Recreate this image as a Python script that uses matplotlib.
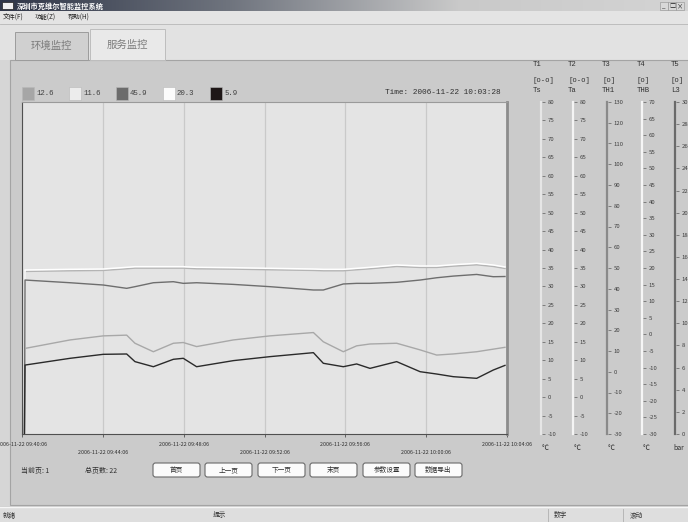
import numpy as np
import matplotlib
matplotlib.use('Agg')
import matplotlib.pyplot as plt
import matplotlib.patheffects as pe
from matplotlib.patches import Rectangle, FancyBboxPatch
from matplotlib.colors import LinearSegmentedColormap

plt.rcParams['font.family'] = ['Noto Sans CJK SC', 'DejaVu Sans']
plt.rcParams['axes.unicode_minus'] = False

W, H = 688, 522

# ---- data ----
# minutes after 2006-11-22 09:40:06
minutes = [0.12, 0.15, 2.38, 4.02, 5.18, 5.59, 6.50, 7.49, 7.98, 8.64, 10.46, 12.27,
           14.42, 14.91, 15.90, 16.56, 17.22, 18.54, 19.70, 20.52, 21.34, 22.50, 23.32, 23.90]
t1_gray = [-10, 13.2, 15.5, 16.6, 16.8, 14.6, 12.3, 14.6, 14.8, 13.7, 15.5, 16.6,
           17.5, 15.0, 12.3, 13.9, 14.4, 14.6, 12.8, 11.4, 11.7, 12.3, 13.0, 13.5]
th1_dark = [-30, 44.2, 42.9, 41.8, 40.2, 41.0, 42.9, 43.4, 42.6, 42.9, 42.1, 41.0,
            39.4, 39.4, 42.3, 42.6, 42.6, 43.1, 44.2, 45.3, 46.1, 46.9, 45.8, 45.9]
thb_white = [-30, 19.4, 19.6, 19.7, 20.2, 20.4, 20.4, 20.4, 20.4, 20.2, 20.1, 19.9,
             19.7, 19.6, 19.6, 19.9, 20.2, 20.9, 20.6, 20.6, 21.0, 21.4, 20.9, 20.3]
l3_black = [0, 6.23, 6.84, 7.20, 7.23, 6.54, 6.08, 6.75, 6.84, 6.08, 6.63, 6.99,
            7.35, 6.39, 6.08, 6.33, 5.93, 6.54, 5.63, 5.42, 5.18, 5.03, 5.78, 6.2]

legend_vals = ['12.6', '11.6', '45.9', '20.3', '5.9']
legend_cols = ['#a6a6a6', '#ececec', '#6c6c6c', '#fbfbfb', '#1e1616']

tick_minutes = [0, 4, 8, 12, 16, 20, 24]
tick_labels = ['2006-11-22 09:40:06', '2006-11-22 09:44:06', '2006-11-22 09:48:06',
               '2006-11-22 09:52:06', '2006-11-22 09:56:06', '2006-11-22 10:00:06',
               '2006-11-22 10:04:06']

scale_head = [('T1', '[o-o]', 'Ts'), ('T2', '[o-o]', 'Ta'), ('T3', '[o]', 'TH1'),
              ('T4', '[o]', 'THB'), ('T5', '[o]', 'L3')]
scale_lim = [(-10, 80, 5), (-10, 80, 5), (-30, 130, 10), (-30, 70, 5), (0, 30, 2)]
scale_unit = ['℃', '℃', '℃', '℃', 'bar']

buttons = ['首页', '上一页', '下一页', '末页', '参数设置', '数据导出']


def box(x0, y0, x1, y1):
    return [x0 / W, 1 - y1 / H, (x1 - x0) / W, (y1 - y0) / H]


fig = plt.figure(figsize=(W / 100, H / 100), dpi=100, facecolor='#cbcbcb')

# ---- window chrome ----
ui = fig.add_axes([0, 0, 1, 1])
ui.set_zorder(0)
tb = LinearSegmentedColormap.from_list('tb', ['#2f3648', '#6f747e', '#c9c9c9', '#d4d4d4'])
ui.imshow(np.linspace(0, 1, 256)[None, :], cmap=tb, aspect='auto', extent=[0, W, 11, 0])
ui.add_patch(Rectangle((0, 11), W, 13, fc='#e4e4e4', ec='none'))
ui.add_patch(Rectangle((0, 24), W, 36, fc='#e2e2e2', ec='none'))
ui.plot([0, W], [24, 24], color='#b8b8b8', lw=0.6)
ui.add_patch(Rectangle((0, 60), W, 446, fc='#d6d6d6', ec='none'))
ui.add_patch(Rectangle((10, 60), W, 445, fc='#cbcbcb', ec='#a4a4a4', lw=0.8))
ui.add_patch(Rectangle((0, 507), W, 15, fc='#dedede', ec='none'))
ui.plot([0, W], [507, 507], color='#f6f6f6', lw=1)
for sx in [548, 623]:
    ui.plot([sx, sx], [509, 522], color='#b0b0b0', lw=0.6)

ui.add_patch(Rectangle((2, 2), 11, 7, fc='#f0f0f0', ec='#202020', lw=0.5))
ui.text(17, 6, '深圳市克维尔智能监控系统', color='white', fontsize=5.2,
        fontweight='bold', va='center', ha='left')
for bx, s in [(664, '_'), (672, '□'), (680, '×')]:
    ui.add_patch(Rectangle((bx - 4, 2), 8, 8, fc='#d8d8d8', ec='#909090', lw=0.4))
    ui.text(bx, 6, s, fontsize=4.5, ha='center', va='center', color='#202020')

for mx, s in [(3, '文件(F)'), (35, '功能(Z)'), (68, '帮助(H)')]:
    ui.text(mx, 17.5, s, fontsize=4.6, va='center', ha='left', color='#202020')

ui.add_patch(Rectangle((15, 32), 73, 28, fc='#d0d0d0', ec='#9c9c9c', lw=0.7))
ui.add_patch(Rectangle((90, 29), 75, 31, fc='#e9e9e9', ec='#bdbdbd', lw=0.7))
ui.text(51, 46, '环境监控', fontsize=7.5, color='#7c7c7c', ha='center', va='center')
ui.text(127, 45, '服务监控', fontsize=7.5, color='#7c7c7c', ha='center', va='center')

# legend row
lx = [22, 69, 116, 163, 210]
for x0, v, c in zip(lx, legend_vals, legend_cols):
    ui.add_patch(Rectangle((x0, 87), 12, 13, fc=c, ec='#b8b8b8', lw=0.4))
    ui.text(x0 + 14, 93.5, v, fontsize=5.3, family=['Liberation Mono'],
            color='#404040', va='center', ha='left')
ui.text(385, 93, 'Time: 2006-11-22 10:03:28', fontsize=5.6, family=['Liberation Mono'],
        color='#303030', va='center', ha='left')

# bottom row
ui.text(21, 471, '当前页: 1', fontsize=5, color='#303030', va='center')
ui.text(85, 471, '总页数: 22', fontsize=5, color='#303030', va='center')
bx0 = [153, 205, 258, 310, 363, 415]
for x0, s in zip(bx0, buttons):
    ui.add_patch(FancyBboxPatch((x0, 463), 47, 14, boxstyle='round,pad=0,rounding_size=2.5',
                                fc='#fbfbfb', ec='#6a6a6a', lw=0.8))
    ui.text(x0 + 23.5, 470, s, fontsize=4.8, ha='center', va='center', color='#303030')

for sx, s in [(3, '就绪'), (213, '提示'), (554, '数字'), (630, '滚动')]:
    ui.text(sx, 515, s, fontsize=4.8, va='center', color='#303030')

ui.set_xlim(0, W)
ui.set_ylim(H, 0)
ui.axis('off')

# ---- trend plot ----
ax = fig.add_axes(box(22, 102, 507, 434))
ax.set_zorder(1)
ax.set_facecolor('#e4e4e4')
ax.set_xlim(0, 24)
ax.set_ylim(-10, 80)
ax.set_xticks(tick_minutes)
ax.set_xticklabels([])
ax.set_yticks([])
ax.tick_params(axis='x', length=2.5, width=0.6, color='#505050')
ax.xaxis.grid(True, color='#c9c9c9', lw=0.9)
for side, col in [('left', '#505050'), ('bottom', '#505050'), ('top', '#9a9a9a'), ('right', '#8c8c8c')]:
    ax.spines[side].set_color(col)
ax.spines['right'].set_linewidth(2)
for i, (m, lab) in enumerate(zip(tick_minutes, tick_labels)):
    ax.text(m, -0.033 if i % 2 == 0 else -0.055, lab, transform=ax.get_xaxis_transform(),
            fontsize=3.9, ha='center', va='center', color='#303030', clip_on=False)

ax_thb = ax.twinx()
ax_thb.set_ylim(-30, 70)
ax_thb.axis('off')
ax_thb.plot(minutes, thb_white, color='white', lw=1.1,
            path_effects=[pe.SimpleLineShadow(offset=(0, -1), shadow_color='#b4b4b4', alpha=1), pe.Normal()])

ax.plot(minutes, t1_gray, color='#a8a8a8', lw=1.0, zorder=3)

ax_th1 = ax.twinx()
ax_th1.set_ylim(-30, 130)
ax_th1.axis('off')
ax_th1.plot(minutes, th1_dark, color='#6e6e6e', lw=1.0)

ax_l3 = ax.twinx()
ax_l3.set_ylim(0, 30)
ax_l3.axis('off')
ax_l3.plot(minutes, l3_black, color='#2a2a2a', lw=1.0)

# ---- scales on the right ----
scale_x = [541, 573, 607, 642, 675]
scale_col = ['#e6e6e6', '#f4f4f4', '#8a8a8a', '#f6f6f6', '#6a6a6a']
head_x = [533, 568, 602, 637, 671]
for i in range(5):
    lo, hi, st = scale_lim[i]
    sa = fig.add_axes(box(scale_x[i], 102, scale_x[i] + 1, 434))
    sa.set_zorder(1)
    sa.patch.set_visible(False)
    sa.set_ylim(lo, hi)
    sa.set_xticks([])
    sa.set_yticks(np.arange(lo, hi + st / 2, st))
    sa.yaxis.tick_right()
    sa.tick_params(axis='y', length=2, width=0.6, color='#707070', pad=2,
                   labelsize=4.3, labelcolor='#404040')
    for side in ['top', 'bottom', 'right']:
        sa.spines[side].set_visible(False)
    sa.spines['left'].set_color(scale_col[i])
    sa.spines['left'].set_linewidth(1.6)
    for yy, s in zip([65, 81, 91], scale_head[i]):
        ui.text(head_x[i], yy, s, fontsize=5.2, family=['Liberation Mono'],
                color='#303030', va='center', ha='left')
    ui.text(scale_x[i] + 4, 448, scale_unit[i], fontsize=5, color='#303030',
            va='center', ha='center')

fig.savefig('out.png', dpi=100, facecolor=fig.get_facecolor())
